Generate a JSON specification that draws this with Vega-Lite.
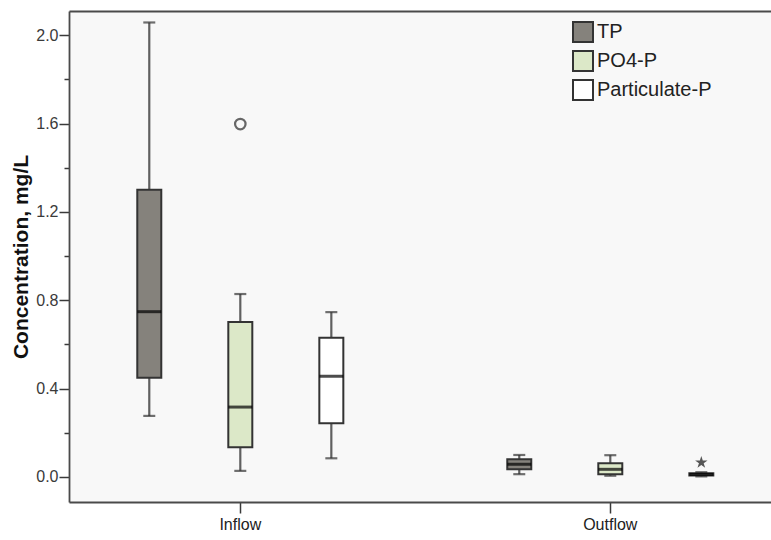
{
  "$schema": "https://vega.github.io/schema/vega-lite/v6.json",
  "width": 702,
  "height": 491,
  "autosize": {"type": "none"},
  "padding": {"left": 69, "top": 11, "right": 0, "bottom": 38},
  "background": "white",
  "config": {
    "view": {"fill": "#f8f8f8", "stroke": null},
    "font": "Liberation Sans",
    "axis": {"domainColor": "#4a4a4a", "domainWidth": 1.8, "tickColor": "#3a3a3a", "tickWidth": 1.5, "labelColor": "#333333", "labelFont": "Liberation Sans", "grid": false}
  },
  "datasets": {
    "boxes": [
      {"flow": "Inflow", "param": "TP", "lower": 0.276, "q1": 0.449, "median": 0.748, "q3": 1.30, "upper": 2.058},
      {"flow": "Inflow", "param": "PO4-P", "lower": 0.027, "q1": 0.134, "median": 0.316, "q3": 0.701, "upper": 0.828},
      {"flow": "Inflow", "param": "Particulate-P", "lower": 0.084, "q1": 0.243, "median": 0.456, "q3": 0.63, "upper": 0.746},
      {"flow": "Outflow", "param": "TP", "lower": 0.012, "q1": 0.034, "median": 0.057, "q3": 0.080, "upper": 0.099},
      {"flow": "Outflow", "param": "PO4-P", "lower": 0.005, "q1": 0.012, "median": 0.034, "q3": 0.062, "upper": 0.098},
      {"flow": "Outflow", "param": "Particulate-P", "lower": 0.002, "q1": 0.006, "median": 0.011, "q3": 0.016, "upper": 0.021}
    ],
    "outliers": [
      {"flow": "Inflow", "param": "PO4-P", "value": 1.598, "kind": "outlier"},
      {"flow": "Outflow", "param": "Particulate-P", "value": 0.065, "kind": "extreme"}
    ]
  },
  "resolve": {"axis": {"x": "independent"}},
  "layer": [
    {
      "data": {"name": "boxes"},
      "mark": {"type": "rule", "stroke": "#606060", "strokeWidth": 2.2},
      "encoding": {
        "x": {"field": "flow", "type": "nominal", "scale": {"domain": ["Inflow", "Outflow"], "range": [0, 712.6], "paddingInner": 0.074, "paddingOuter": 0}, "title": null,
          "axis": {"orient": "bottom", "labelFontSize": 16, "labelAngle": 0, "tickSize": 11, "labelPadding": 3, "labelColor": "#222222"}},
        "xOffset": {"field": "param", "type": "nominal", "scale": {"domain": ["TP", "PO4-P", "Particulate-P"], "paddingOuter": 0.382, "paddingInner": 0}},
        "y": {"field": "lower", "type": "quantitative", "scale": {"domain": [-0.114, 2.11], "nice": false, "zero": false}, "title": "Concentration, mg/L",
          "axis": {"values": [0, 0.2, 0.4, 0.6, 0.8, 1.0, 1.2, 1.4, 1.6, 1.8, 2.0], "labelExpr": "abs(round(datum.value*10)) % 4 == 0 ? format(datum.value, '.1f') : ''", "tickSize": {"condition": {"test": "abs(round(datum.value*10)) % 4 == 0", "value": 10}, "value": 5}, "labelFontSize": 16, "labelPadding": 1, "labelColor": "#3a3a3a", "titleFontSize": 21, "titleFontWeight": "bold", "titleColor": "#111111", "titlePadding": 4}},
        "y2": {"field": "upper"}
      }
    },
    {
      "data": {"name": "boxes"},
      "mark": {"type": "tick", "color": "#333333", "size": 12, "thickness": 2.2},
      "encoding": {
        "x": {"field": "flow", "type": "nominal", "axis": null},
        "xOffset": {"field": "param", "type": "nominal"},
        "y": {"field": "lower", "type": "quantitative", "title": "Concentration, mg/L"}
      }
    },
    {
      "data": {"name": "boxes"},
      "mark": {"type": "tick", "color": "#333333", "size": 12, "thickness": 2.2},
      "encoding": {
        "x": {"field": "flow", "type": "nominal", "axis": null},
        "xOffset": {"field": "param", "type": "nominal"},
        "y": {"field": "upper", "type": "quantitative", "title": "Concentration, mg/L"}
      }
    },
    {
      "data": {"name": "boxes"},
      "mark": {"type": "bar", "width": 24, "stroke": "#333333", "strokeWidth": 2},
      "encoding": {
        "x": {"field": "flow", "type": "nominal", "axis": null},
        "xOffset": {"field": "param", "type": "nominal"},
        "y": {"field": "q1", "type": "quantitative", "title": "Concentration, mg/L"},
        "y2": {"field": "q3"},
        "fill": {"field": "param", "type": "nominal",
          "scale": {"domain": ["TP", "PO4-P", "Particulate-P"], "range": ["#85827c", "#dce8c8", "#ffffff"]},
          "legend": {"title": null, "orient": "none", "legendX": 503, "legendY": 10, "direction": "vertical", "symbolType": "square", "symbolSize": 400, "symbolStrokeColor": "#333333", "symbolStrokeWidth": 2, "labelFontSize": 20, "labelFont": "Liberation Sans", "labelColor": "#222222", "rowPadding": 1, "labelOffset": 3, "padding": 0, "symbolOffset": 0}}
      }
    },
    {
      "data": {"name": "boxes"},
      "mark": {"type": "tick", "color": "#000000", "size": 24, "thickness": 3},
      "encoding": {
        "x": {"field": "flow", "type": "nominal", "axis": null},
        "xOffset": {"field": "param", "type": "nominal"},
        "y": {"field": "median", "type": "quantitative", "title": "Concentration, mg/L"}
      }
    },
    {
      "data": {"name": "outliers"},
      "transform": [{"filter": "datum.kind == 'outlier'"}],
      "mark": {"type": "point", "shape": "circle", "filled": false, "stroke": "#2a2a2a", "strokeWidth": 2.2, "size": 110},
      "encoding": {
        "x": {"field": "flow", "type": "nominal", "axis": null},
        "xOffset": {"field": "param", "type": "nominal"},
        "y": {"field": "value", "type": "quantitative", "title": "Concentration, mg/L"}
      }
    },
    {
      "data": {"name": "outliers"},
      "transform": [{"filter": "datum.kind == 'extreme'"}],
      "mark": {"type": "point", "shape": "M0,-1L0.2245,-0.309L0.951,-0.309L0.363,0.118L0.588,0.809L0,0.382L-0.588,0.809L-0.363,0.118L-0.951,-0.309L-0.2245,-0.309Z", "filled": true, "fill": "#111111", "strokeWidth": 0, "size": 170},
      "encoding": {
        "x": {"field": "flow", "type": "nominal", "axis": {"orient": "top", "labels": false, "ticks": false, "title": null}},
        "xOffset": {"field": "param", "type": "nominal"},
        "y": {"field": "value", "type": "quantitative", "title": "Concentration, mg/L"}
      }
    }
  ]
}
